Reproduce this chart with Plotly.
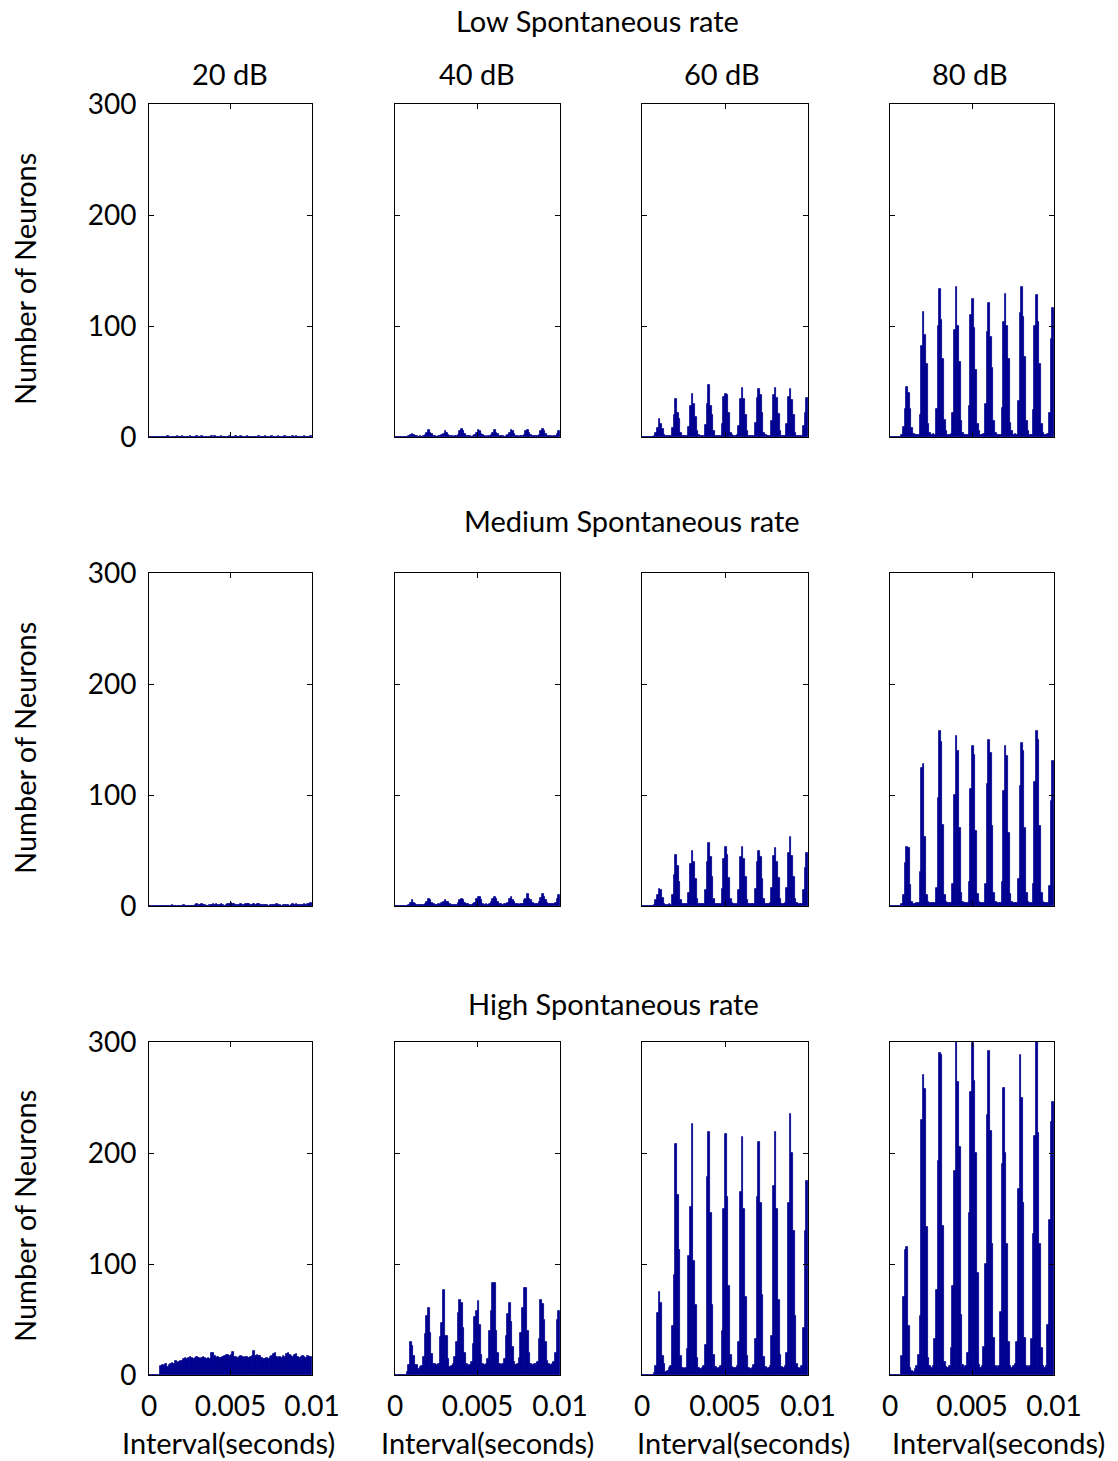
import plotly.graph_objects as go

W, H = 1118, 1461
BIN_WIDTH = 0.0001
FONT = "Lato"
FS = 28
TFS = 29
BAR_COLOR = "#00008F"

row_titles = ["Low Spontaneous rate", "Medium Spontaneous rate", "High Spontaneous rate"]
col_titles = ["20 dB", "40 dB", "60 dB", "80 dB"]
x_tickvals = [0, 0.005, 0.01]
x_ticktext = ["0", "0.005", "0.01"]
y_tickvals = [0, 100, 200, 300]
x_title = "Interval(seconds)"
y_title = "Number of Neurons"

# Counts per 0.1 ms bin, 0 .. 10 ms (100 bins per panel)
low_20 = [0,0,0,0,0,0,0,0,0,0, 0,1,0,0,0,0,0,1,0,0, 1,0,0,0,0,1,0,0,0,1, 0,0,1,0,0,0,0,0,1,0,
          1,0,0,0,1,0,0,0,0,1, 0,0,0,1,0,0,1,0,0,0, 1,0,0,0,0,0,0,1,0,0, 0,1,0,0,0,1,0,0,0,1,
          0,0,0,1,0,0,0,0,1,0, 1,0,0,0,0,1,0,0,0,1]
low_40 = [0,0,0,0,0,0,0,0,1,2, 3,2,1,1,0,1,0,1,2,4, 6,4,3,1,1,0,1,1,2,3, 5,4,2,1,1,0,1,1,2,5,
          7,5,3,1,1,1,0,1,2,4, 6,5,3,2,1,0,1,1,2,4, 6,4,3,1,1,1,0,1,2,4, 6,5,3,1,1,0,1,1,2,5,
          6,4,2,1,1,1,1,2,5,7, 5,3,1,1,1,0,1,1,3,5]
low_60 = [0,0,0,0,0,0,0,1,4,8, 16,12,7,2,1,1,1,1,8,20, 34,22,16,4,1,1,1,1,9,28, 39,30,18,5,2,1,1,1,11,30,
          47,28,20,5,1,1,1,1,12,36, 39,38,22,4,2,1,1,2,10,34, 44,34,20,5,1,1,1,1,13,35,
          43,38,22,4,2,1,1,1,14,38, 44,35,21,5,1,1,1,12,36,43, 33,20,4,1,1,1,1,10,22,35]
low_80 = [0,0,0,0,0,0,0,2,9,25, 45,40,25,8,3,2,2,2,20,82, 113,92,66,12,4,2,3,2,25,100,
          133,105,70,15,5,2,2,3,22,96, 135,100,68,14,4,2,2,2,28,110, 124,98,60,12,5,2,2,3,30,95,
          121,90,62,14,4,2,2,2,26,104, 129,100,70,13,5,2,3,2,32,112, 135,108,72,14,5,2,2,24,100,128,
          104,66,12,4,2,2,3,22,88,116]

med_20 = [0,0,0,0,0,0,0,0,0,0, 0,0,0,0,1,0,0,0,0,0, 0,1,0,0,0,0,0,0,1,2, 1,1,2,1,1,0,0,1,1,2,
          1,2,1,1,2,1,0,1,2,2, 3,2,2,1,1,1,2,1,1,2, 2,2,1,1,2,1,2,2,1,1, 1,1,1,0,1,1,1,1,2,1,
          1,0,1,1,1,1,0,1,2,1, 2,1,1,1,1,2,1,2,2,3]
med_40 = [0,0,0,0,0,0,0,0,1,3, 5,3,2,1,1,1,1,1,2,4, 6,5,3,2,1,1,2,1,3,4, 5,4,4,2,1,1,1,1,3,5,
          6,5,3,2,2,1,1,2,3,6, 8,8,5,2,1,2,1,2,4,6, 8,6,4,2,2,1,2,2,3,6, 8,5,4,2,2,1,2,2,5,6,
          11,6,5,3,2,2,2,4,7,11, 8,5,3,2,2,2,2,3,6,10]
med_60 = [0,0,0,0,0,0,0,1,5,10, 15,14,7,2,1,1,2,1,10,28, 46,36,22,5,2,2,2,2,12,38, 50,40,24,6,2,2,2,2,14,40,
          57,44,26,6,2,2,2,2,15,42, 53,46,25,6,3,2,2,2,14,44, 53,42,26,5,2,2,2,2,15,40,
          50,44,24,6,2,2,2,3,16,45, 52,40,25,6,2,2,3,16,48,62, 45,26,6,3,2,2,2,14,34,48]
med_80 = [0,0,0,0,0,0,0,2,10,39, 53,52,19,4,2,2,3,3,31,124, 128,62,10,4,3,3,3,3,16,97,
          158,148,73,10,4,3,3,3,20,100, 153,140,70,12,4,3,3,3,22,105, 144,136,68,11,4,3,3,3,20,110,
          150,138,72,12,4,3,3,3,22,104, 144,135,66,11,4,3,3,3,24,108, 147,140,70,12,4,3,3,20,112,158,
          150,72,12,4,3,3,3,18,95,131]

high_20 = [0,0,0,0,0,0,0,8,9,8, 10,7,9,10,11,10,13,11,12,13, 13,14,15,14,15,16,15,14,15,16,
           15,14,15,16,15,14,15,14,20,20, 17,15,16,15,15,16,17,18,18,17, 18,21,16,16,15,16,17,16,15,16,
           16,15,16,17,22,17,18,17,17,15, 14,14,15,14,16,17,19,20,16,15, 16,15,17,16,19,20,18,17,16,18,
           19,16,15,16,17,16,15,17,16,16]
high_40 = [0,0,0,0,0,0,0,3,9,30, 26,17,9,9,5,7,8,16,37,53, 60,38,19,10,10,9,10,34,47,77,
           35,35,14,7,8,10,16,30,56,68, 65,42,20,10,8,9,12,28,52,58, 67,45,18,10,9,10,14,40,58,83,
           83,40,20,10,9,10,14,35,55,65, 48,25,12,9,10,15,38,60,78,78, 40,20,10,9,10,10,12,32,68,64,
           50,30,13,10,9,10,12,20,50,58]
high_60 = [0,0,0,0,0,0,0,2,8,56, 75,65,17,10,3,4,6,8,44,90, 208,162,113,17,6,5,6,23,107,151,
           226,103,63,15,6,5,6,8,27,178, 219,146,63,18,7,5,6,8,40,150, 217,160,80,18,7,6,6,8,30,165,
           214,150,70,17,6,5,6,9,32,160, 210,155,72,16,7,5,6,8,35,170, 219,150,68,18,7,6,8,20,155,235,
           200,130,53,10,6,5,8,42,130,175]
high_80 = [0,0,0,0,0,0,0,17,70,113, 115,44,6,4,3,5,8,18,53,230, 270,258,133,15,8,6,8,32,77,193,
           290,288,134,12,7,6,8,24,80,184, 300,264,205,54,9,6,8,20,146,255, 299,265,200,92,9,6,8,25,100,234,
           292,220,118,33,8,6,8,57,190,259, 200,118,30,8,6,8,10,30,168,288, 250,155,33,8,6,8,32,127,215,307,
           218,118,24,8,6,8,45,140,228,246]

panels = [[low_20, low_40, low_60, low_80],
          [med_20, med_40, med_60, med_80],
          [high_20, high_40, high_60, high_80]]

# layout geometry (pixels)
col_px = [(149, 312), (395, 560), (642, 808), (890, 1054)]
row_px = [(104, 437), (573, 906), (1042, 1375)]

fig = go.Figure()
layout = dict(width=W, height=H, margin=dict(l=0, r=0, t=0, b=0, pad=0),
              paper_bgcolor="white", plot_bgcolor="white", showlegend=False,
              font=dict(family=FONT, size=FS, color="black"), bargap=0)

n = 0
for r in range(3):
    for c in range(4):
        n += 1
        vals = panels[r][c]
        xs = [(i + 0.5) * BIN_WIDTH for i in range(len(vals))]
        xa = "x" if n == 1 else f"x{n}"
        ya = "y" if n == 1 else f"y{n}"
        fig.add_trace(go.Bar(x=xs, y=vals, width=BIN_WIDTH, xaxis=xa, yaxis=ya,
                             marker=dict(color=BAR_COLOR, line=dict(width=0.8, color=BAR_COLOR))))
        x0, x1 = col_px[c]
        y0, y1 = row_px[r]
        last_row = (r == 2)
        layout[f"xaxis{'' if n == 1 else n}"] = dict(
            domain=[x0 / W, x1 / W], anchor=ya, range=[0, 0.01], automargin=False,
            tickvals=x_tickvals, ticktext=x_ticktext, showticklabels=last_row,
            ticks="inside", ticklen=5, tickcolor="black", showline=True, linecolor="black",
            linewidth=1, mirror="ticks", showgrid=False, zeroline=False,
            ticklabelstandoff=6, tickfont=dict(family=FONT, size=FS))
        layout[f"yaxis{'' if n == 1 else n}"] = dict(
            domain=[1 - y1 / H, 1 - y0 / H], anchor=xa, range=[0, 300], automargin=False,
            tickvals=y_tickvals, showticklabels=(c == 0),
            ticks="inside", ticklen=5, tickcolor="black", showline=True, linecolor="black",
            linewidth=1, mirror="ticks", showgrid=False, zeroline=False,
            ticklabelstandoff=6, tickfont=dict(family=FONT, size=FS))

fig.update_layout(**layout)

ann = []
row_title_pos = [(597, 20), (632, 520), (613, 1003)]
for t, (px, py) in zip(row_titles, row_title_pos):
    ann.append(dict(text=t, x=px / W, y=1 - py / H, xref="paper", yref="paper",
                    xanchor="center", yanchor="middle", showarrow=False,
                    font=dict(family=FONT, size=TFS)))
col_title_x = [230, 477, 722, 970]
for t, px in zip(col_titles, col_title_x):
    ann.append(dict(text=t, x=px / W, y=1 - 73 / H, xref="paper", yref="paper",
                    xanchor="center", yanchor="middle", showarrow=False,
                    font=dict(family=FONT, size=TFS)))
for py in [279, 748, 1216]:
    ann.append(dict(text=y_title, x=24 / W, y=1 - py / H, xref="paper", yref="paper",
                    xanchor="center", yanchor="middle", textangle=-90, showarrow=False,
                    font=dict(family=FONT, size=TFS)))
for px in [228, 488, 743, 998]:
    ann.append(dict(text=x_title, x=px / W, y=1 - 1442 / H, xref="paper", yref="paper",
                    xanchor="center", yanchor="middle", showarrow=False,
                    font=dict(family=FONT, size=TFS)))
fig.update_layout(annotations=ann)

fig.write_html("out.html")
